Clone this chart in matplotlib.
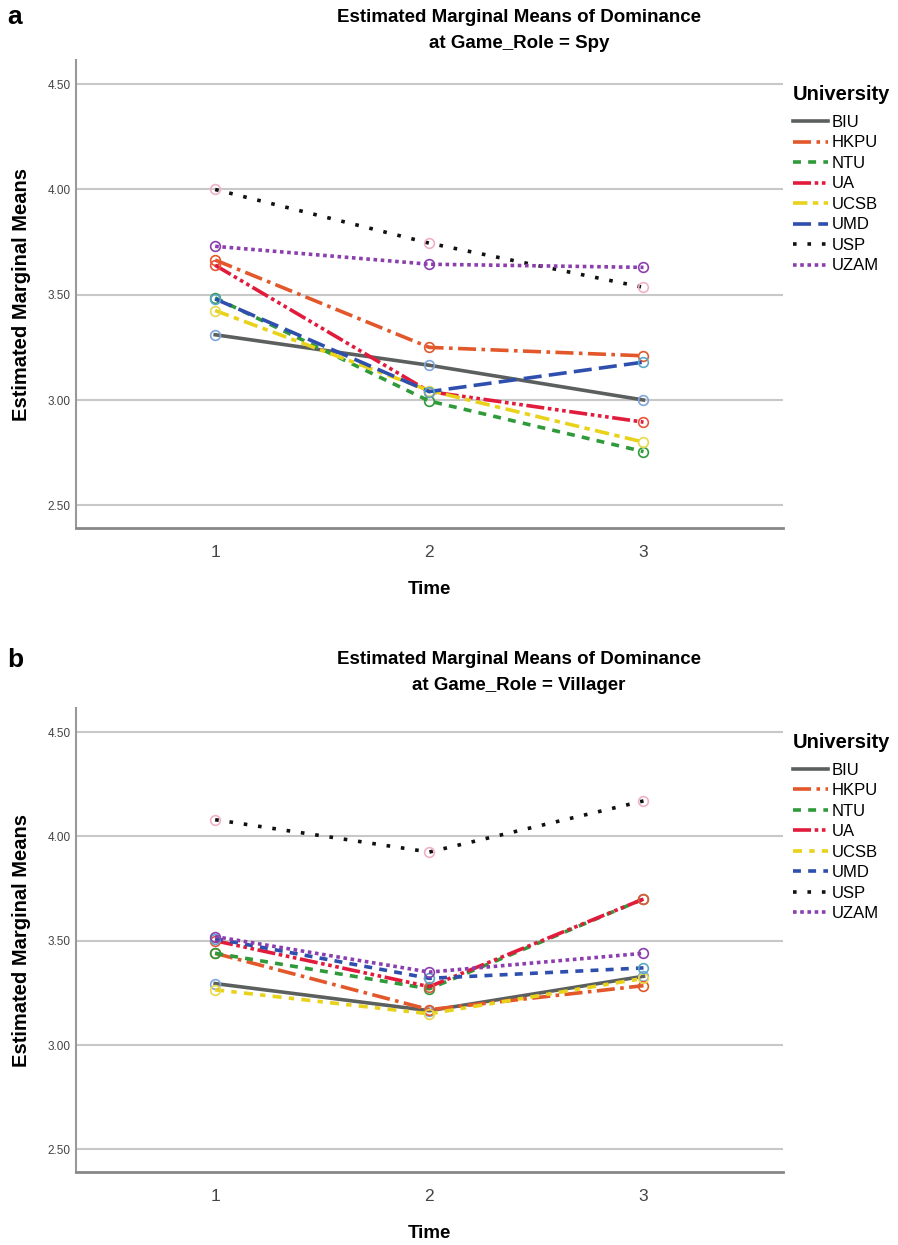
import matplotlib.pyplot as plt
from matplotlib.lines import Line2D

plt.rcParams['font.family'] = ['Liberation Sans', 'DejaVu Sans']

times = [1, 2, 3]
universities = ['BIU', 'HKPU', 'NTU', 'UA', 'UCSB', 'UMD', 'USP', 'UZAM']

# estimated marginal means, game role = Spy
spy_biu = [3.31, 3.165, 3.00]
spy_hkpu = [3.665, 3.25, 3.21]
spy_ntu = [3.485, 2.995, 2.755]
spy_ua = [3.64, 3.04, 2.895]
spy_ucsb = [3.425, 3.045, 2.80]
spy_umd = [3.48, 3.04, 3.18]
spy_usp = [4.00, 3.745, 3.535]
spy_uzam = [3.73, 3.645, 3.63]

# estimated marginal means, game role = Villager
vil_biu = [3.295, 3.165, 3.33]
vil_hkpu = [3.44, 3.17, 3.285]
vil_ntu = [3.44, 3.27, 3.70]
vil_ua = [3.50, 3.28, 3.70]
vil_ucsb = [3.265, 3.15, 3.32]
vil_umd = [3.51, 3.32, 3.37]
vil_usp = [4.08, 3.925, 4.17]
vil_uzam = [3.52, 3.35, 3.44]

spy = [spy_biu, spy_hkpu, spy_ntu, spy_ua, spy_ucsb, spy_umd, spy_usp, spy_uzam]
vil = [vil_biu, vil_hkpu, vil_ntu, vil_ua, vil_ucsb, vil_umd, vil_usp, vil_uzam]

colors = ['#5b605f', '#e2582a', '#2f9a3a', '#e21b3c', '#e8d21a', '#2f4fae', '#111111', '#8b3fae']
marker_edges = ['#7fa6dc', '#e2582a', '#2f9a3a', '#e8553a', '#e8d84a', '#5aa8c8', '#f0b0c8', '#8b3fae']
styles_spy = ['-', (0, (5, 1.5, 1, 1.5)), (0, (2.2, 2)), (0, (5, 1, 1, 1, 1, 1, 1, 1)),
              (0, (4, 1.5, 1.5, 1.5)), (0, (5, 2)), (0, (1, 3)), (0, (1, 1))]
styles_vil = ['-', (0, (5, 1.5, 1, 1.5)), (0, (2.2, 2)), (0, (5, 1, 1, 1, 1, 1, 1, 1)),
              (0, (2.5, 2, 1.5, 2)), (0, (2.2, 2)), (0, (1, 3)), (0, (1, 1))]

fig = plt.figure(figsize=(8.98, 12.45), dpi=100)
ax_a = fig.add_axes([0.0846, 0.5759, 0.787, 0.3759])
ax_b = fig.add_axes([0.0846, 0.0586, 0.787, 0.3727])


def draw_panel(ax, series, styles):
    for name, vals, col, mec, ls in zip(universities, series, colors, marker_edges, styles):
        ax.plot(times, vals, color=col, linestyle=ls, linewidth=2.6,
                marker='o', markersize=7, markerfacecolor='none',
                markeredgecolor=mec, markeredgewidth=1.2, label=name, zorder=3)
    ax.set_xlim(0.35, 3.65)
    ax.set_ylim(2.392, 4.615)
    ax.set_yticks([2.5, 3.0, 3.5, 4.0, 4.5])
    ax.set_yticklabels(['2.50', '3.00', '3.50', '4.00', '4.50'])
    ax.set_xticks(times)
    ax.grid(axis='y', color='#c8c8c8', linewidth=1.5, zorder=0)
    ax.tick_params(axis='y', length=0, labelsize=8.5, labelcolor='#444444', pad=4)
    ax.tick_params(axis='x', length=0, labelsize=12.5, labelcolor='#444444', pad=12)
    for s in ['top', 'right']:
        ax.spines[s].set_visible(False)
    ax.spines['left'].set_color('#999999')
    ax.spines['bottom'].set_color('#888888')
    ax.spines['left'].set_linewidth(1.5)
    ax.spines['bottom'].set_linewidth(2)
    ax.set_xlabel('Time', fontsize=13.5, fontweight='bold', labelpad=15)
    ax.set_ylabel('Estimated Marginal Means', fontsize=14.5, fontweight='bold', labelpad=12)
    handles = [Line2D([0], [0], color=c, linestyle=ls, linewidth=2.6) for c, ls in zip(colors, styles)]
    leg = ax.legend(handles, universities, loc='upper left', bbox_to_anchor=(0.998, 0.972),
                    frameon=False, fontsize=12, title='University', handlelength=2.1,
                    handletextpad=0.2, labelspacing=0.33, borderaxespad=0.3,
                    alignment='left')
    leg.get_title().set_fontsize(14.5)
    leg.get_title().set_fontweight('bold')
    leg._legend_box.sep = 8


draw_panel(ax_a, spy, styles_spy)
draw_panel(ax_b, vil, styles_vil)

fig.text(0.578, 1 - 17 / 1245, 'Estimated Marginal Means of Dominance', ha='center', va='center',
         fontsize=13.5, fontweight='bold')
fig.text(0.578, 1 - 43 / 1245, 'at Game_Role = Spy', ha='center', va='center',
         fontsize=13.5, fontweight='bold')
fig.text(0.578, 1 - 659 / 1245, 'Estimated Marginal Means of Dominance', ha='center', va='center',
         fontsize=13.5, fontweight='bold')
fig.text(0.578, 1 - 686 / 1245, 'at Game_Role = Villager', ha='center', va='center',
         fontsize=13.5, fontweight='bold')
fig.text(0.008, 1 - 17 / 1245, 'a', ha='left', va='center', fontsize=19, fontweight='bold')
fig.text(0.008, 1 - 660 / 1245, 'b', ha='left', va='center', fontsize=19, fontweight='bold')

fig.savefig('out.png', dpi=100)
